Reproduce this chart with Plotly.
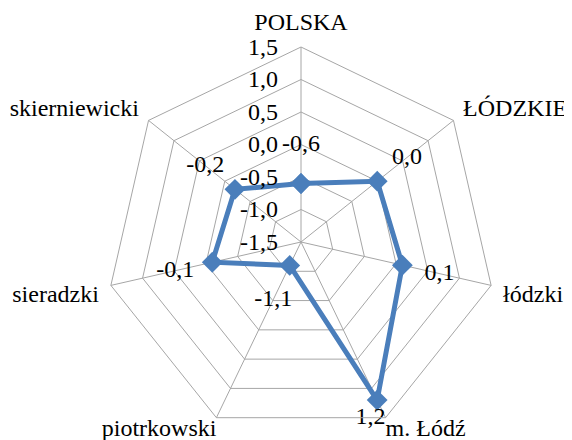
import plotly.graph_objects as go

categories = ["POLSKA", "ŁÓDZKIE", "łódzki", "m. Łódź", "piotrkowski", "sieradzki", "skierniewicki"]
values = [-0.6, 0.0, 0.1, 1.2, -1.1, -0.1, -0.2]
radial_ticks = [-1.5, -1.0, -0.5, 0.0, 0.5, 1.0, 1.5]
radial_ticktext = ["-1,5", "-1,0", "-0,5", "0,0", "0,5", "1,0", "1,5"]
value_labels = ["-0,6", "0,0", "0,1", "1,2", "-1,1", "-0,1", "-0,2"]
# category names drawn beside (not below) their vertex
side_categories = ["m. Łódź", "piotrkowski"]
side_positions = ["bottom right", "bottom left"]

R_MIN, R_MAX = -1.5, 1.5
# plotly's polygon grid misbehaves with negative radii, so the radial scale is
# measured from the axis minimum (tick texts keep the original values)
def to_r(v):
    return v - R_MIN

LABEL_OFFSET = 0.585
r_vals = [to_r(v) for v in values]
label_r = [min(to_r(v) + LABEL_OFFSET, to_r(R_MAX)) for v in values]
label_pos = ["middle left" if to_r(v) + LABEL_OFFSET > to_r(R_MAX) else "middle center" for v in values]
angular_ticktext = ["" if c in side_categories else c for c in categories]

FONT = "Liberation Serif, Times New Roman, serif"
BLUE = "#4a7ebb"
GRID = "#a6a6a6"
FS = 24

fig = go.Figure()
fig.add_trace(go.Scatterpolar(
    r=r_vals + [r_vals[0]],
    theta=categories + [categories[0]],
    mode="lines+markers",
    line=dict(color=BLUE, width=5),
    marker=dict(symbol="diamond", size=16, color=BLUE),
    hoverinfo="skip",
    showlegend=False,
    cliponaxis=False,
))
fig.add_trace(go.Scatterpolar(
    r=label_r,
    theta=categories,
    mode="text",
    text=value_labels,
    textposition=label_pos,
    textfont=dict(family=FONT, size=FS, color="#000000"),
    hoverinfo="skip",
    showlegend=False,
    cliponaxis=False,
))
fig.add_trace(go.Scatterpolar(
    r=[to_r(R_MAX)] * len(side_categories),
    theta=side_categories,
    mode="text",
    text=side_categories,
    textposition=side_positions,
    textfont=dict(family=FONT, size=FS, color="#000000"),
    hoverinfo="skip",
    showlegend=False,
    cliponaxis=False,
))

# page body has an 8px margin, so the figure is 8px smaller than the window
W, H = 564, 432
cx, cy, rad = 293, 234, 195
fig.update_layout(
    width=W, height=H,
    margin=dict(l=0, r=0, t=0, b=0),
    paper_bgcolor="white",
    plot_bgcolor="white",
    font=dict(family=FONT, size=FS, color="#000000"),
    polar=dict(
        domain=dict(x=[(cx - rad) / W, (cx + rad) / W],
                    y=[(H - cy - rad) / H, (H - cy + rad) / H]),
        bgcolor="white",
        gridshape="linear",
        angularaxis=dict(
            direction="clockwise",
            rotation=90,
            categoryorder="array",
            categoryarray=categories,
            tickmode="array",
            tickvals=categories,
            ticktext=angular_ticktext,
            showline=True,
            linecolor=GRID,
            linewidth=1,
            gridcolor=GRID,
            gridwidth=1,
            ticks="outside",
            ticklen=7,
            tickcolor="rgba(0,0,0,0)",
            tickfont=dict(family=FONT, size=FS, color="#000000"),
        ),
        radialaxis=dict(
            range=[to_r(R_MIN), to_r(R_MAX)],
            tickvals=[to_r(t) for t in radial_ticks],
            ticktext=radial_ticktext,
            angle=90,
            side="counterclockwise",
            showline=False,
            gridcolor=GRID,
            gridwidth=1,
            ticks="outside",
            ticklen=14,
            tickcolor="rgba(0,0,0,0)",
            tickfont=dict(family=FONT, size=FS, color="#000000"),
            tickangle=90,
        ),
    ),
)

fig.write_html("out.html")
